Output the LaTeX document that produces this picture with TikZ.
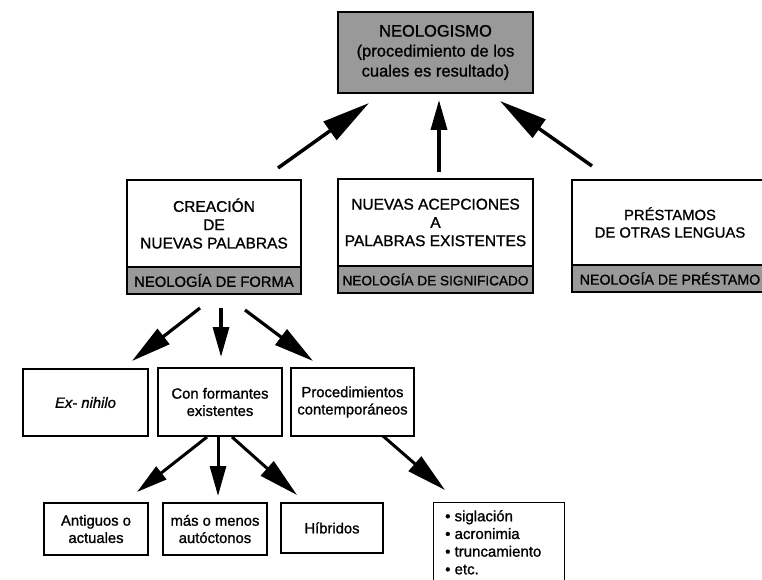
\documentclass[tikz,border=0pt]{standalone}
\usepackage{fontspec}
\setmainfont{Liberation Sans}[FakeBold=1.1]
\usetikzlibrary{arrows.meta,calc}
\begin{document}
\begin{tikzpicture}[x=1pt,y=-1pt,
  box/.style={draw, line width=1.3pt, inner sep=0pt, align=center, font=\fontsize{15.5}{18.3}\selectfont},
  sbox/.style={draw, line width=1.3pt, inner sep=0pt, align=center, font=\fontsize{14.8}{17.3}\selectfont},
  band/.style={draw, line width=1.3pt, fill=black!40, inner sep=0pt, align=center},
  conn/.style={line width=3.2pt},
  longhead/.style={-{Triangle[length=48pt,width=22pt]}},
  diaghead/.style={-{Triangle[length=40pt,width=19pt]}},
  vhead/.style={-{Triangle[length=30pt,width=16pt]}},
  shorthead/.style={-{Triangle[length=31pt,width=16pt]}},
]
\clip (0,0) rectangle (762,580);
\fill[white] (0,0) rectangle (762,580);

% top
\node[band, line width=1.5pt, minimum width=195pt, minimum height=81pt, font=\fontsize{16.5}{20}\selectfont] (neo) at (435.5,52.5) {NEOLOGISMO\\(procedimiento de los\\cuales es resultado)};

% second row
\node[box, minimum width=174pt, minimum height=87pt] (crea) at (214,223.5) {CREACIÓN\\DE\\NUEVAS PALABRAS};
\node[band, minimum width=174pt, minimum height=27pt, font=\fontsize{14.8}{17}\selectfont] (creab) at (214,280.5) {NEOLOGÍA DE FORMA};

\node[box, minimum width=195pt, minimum height=87pt] (nuev) at (435.5,222.5) {NUEVAS ACEPCIONES\\A\\PALABRAS EXISTENTES};
\node[band, minimum width=195pt, minimum height=27pt, font=\fontsize{13.6}{16}\selectfont] (nuevb) at (435.5,279.5) {NEOLOGÍA DE SIGNIFICADO};

\node[box, minimum width=196pt, minimum height=85pt, font=\fontsize{14.8}{17.5}\selectfont] (pres) at (670,222.5) {PRÉSTAMOS\\DE OTRAS LENGUAS};
\node[band, minimum width=196pt, minimum height=27pt, font=\fontsize{14.2}{17}\selectfont] (presb) at (670,278.5) {NEOLOGÍA DE PRÉSTAMO};

% third row
\node[sbox, minimum width=125pt, minimum height=67pt] (exn) at (85.5,402.5) {\itshape Ex- nihilo};
\node[sbox, minimum width=124pt, minimum height=68pt] (conf) at (220,402) {Con formantes\\existentes};
\node[sbox, minimum width=123pt, minimum height=68pt] (proc) at (352.5,402) {Procedimientos\\contemporáneos};

% bottom row
\node[sbox, minimum width=104pt, minimum height=52pt] (anti) at (96,529) {Antiguos o\\actuales};
\node[sbox, minimum width=104pt, minimum height=52pt] (mas) at (215,529) {más o menos\\autóctonos};
\node[sbox, minimum width=102pt, minimum height=50pt] (hib) at (332,528) {Híbridos};

\node[draw, line width=1.3pt, inner sep=0pt, anchor=north west, minimum width=131pt, minimum height=95pt] (sigl) at (433,502) {};
\node[inner sep=0pt, anchor=north west, align=left, font=\fontsize{15}{17.7}\selectfont] (siglt) at ($(sigl.north west)+(12,8)$) {• siglación\\• acronimia\\• truncamiento\\• etc.};

% arrow end points
\coordinate (a1s) at (278,168); \coordinate (a1e) at (369,103);
\coordinate (a2s) at (439,172); \coordinate (a2e) at (439,100);
\coordinate (a3s) at (592,166); \coordinate (a3e) at (500,101);
\coordinate (b1s) at (200,308); \coordinate (b1e) at (132,361);
\coordinate (b2s) at (221,308); \coordinate (b2e) at (221,357);
\coordinate (b3s) at (245,310); \coordinate (b3e) at (313,361);
\coordinate (c1s) at (207,437); \coordinate (c1e) at (137,492);
\coordinate (c2s) at (218,437); \coordinate (c2e) at (218,496);
\coordinate (c3s) at (232,437); \coordinate (c3e) at (297,495);
\coordinate (d1s) at (383,436); \coordinate (d1e) at (445,490);

\draw[conn, line width=3.5pt, longhead] (a1s) -- (a1e);
\draw[conn, line width=3.5pt, vhead] (a2s) -- (a2e);
\draw[conn, line width=3.5pt, longhead] (a3s) -- (a3e);
\draw[conn, diaghead] (b1s) -- (b1e);
\draw[conn, vhead] (b2s) -- (b2e);
\draw[conn, diaghead] (b3s) -- (b3e);
\draw[conn, line width=3pt, shorthead] (c1s) -- (c1e);
\draw[conn, line width=3pt, vhead] (c2s) -- (c2e);
\draw[conn, line width=3pt, diaghead] (c3s) -- (c3e);
\draw[conn, line width=3pt, diaghead] (d1s) -- (d1e);
\end{tikzpicture}
\end{document}
